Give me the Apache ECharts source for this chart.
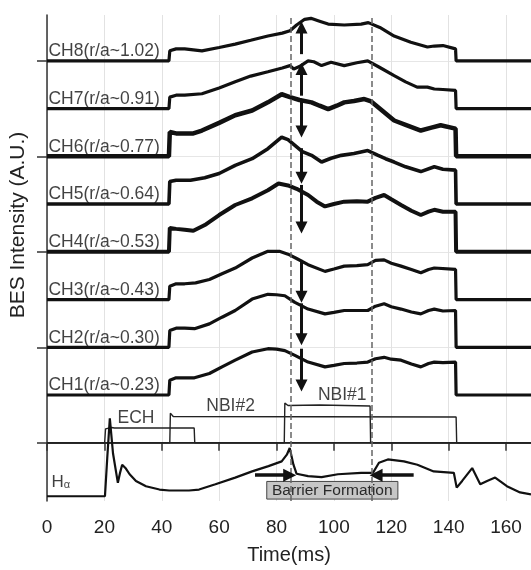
<!DOCTYPE html>
<html><head><meta charset="utf-8">
<script src="https://cdn.jsdelivr.net/npm/echarts@6/dist/echarts.min.js"></script>
<style>html,body{margin:0;padding:0;background:#fff}#c{width:531px;height:570px}</style>
</head><body><div id="c"></div>
<script>
// ---- data (time in ms, intensity in A.U.; channel spacing = 10 A.U.) ----
const xTicks = [0, 20, 40, 60, 80, 100, 120, 140, 160];
const yTicks = [0, 20, 40, 60, 80];
const channelLabels = ['CH1(r/a~0.23)','CH2(r/a~0.30)','CH3(r/a~0.43)','CH4(r/a~0.53)','CH5(r/a~0.64)','CH6(r/a~0.77)','CH7(r/a~0.91)','CH8(r/a~1.02)'];
const channelOffsets = [10, 20, 30, 40, 50, 60, 70, 80];

const ch1 = [[0,0],[42.5,0],[42.8,3.1],[45,3.6],[48,3.6],[51.4,3.6],[56.6,4.5],[61,5.9],[65.6,7.3],[71.5,9.0],[77,9.7],[80,9.6],[82.9,9.3],[86.4,8.3],[91,6.9],[96.9,5.9],[100,6.2],[103.6,6.6],[108,6.7],[111.8,6.9],[114.5,7.6],[117.5,7.9],[120,7.5],[123.4,7.3],[127,6.5],[130.3,5.9],[133,6.6],[135,6.9],[138,6.8],[142.4,6.9],[142.6,0],[168.7,0]];
const ch2 = [[0,0],[42.5,0],[42.8,3.5],[45,4.0],[48,4.0],[51.4,3.9],[56.6,4.9],[61,6.3],[65.6,7.7],[71.5,10.1],[77,11.1],[80,11.0],[82.9,10.8],[86.4,9.4],[91,8.0],[96.9,7.0],[100,7.3],[103.6,7.7],[108,7.7],[111.8,7.7],[114.5,8.6],[117.5,9.1],[120,8.5],[123.4,8.0],[127,7.4],[130.3,7.0],[133,7.7],[135,8.0],[138,7.6],[142.4,7.7],[142.6,0],[168.7,0]];
const ch3 = [[0,0],[42.5,0],[42.8,2.8],[45,3.3],[48,3.3],[51.8,3.5],[56.6,4.2],[61,5.4],[65.6,6.6],[71.5,8.7],[77,10.1],[81,10.1],[84,9.5],[87,8.6],[91,7.3],[96.9,5.9],[100,6.4],[103.6,7.0],[108,7.1],[111.8,7.3],[114.5,8.2],[117.5,8.3],[120,7.6],[123.4,7.0],[127,6.3],[130.3,5.6],[133,6.3],[135,6.6],[142.4,6.3],[142.6,0],[168.7,0]];
const ch4 = [[0,0],[42.5,0],[42.8,5.0],[45,4.8],[48,4.6],[51,4.4],[55,5.6],[60,7.7],[65.6,9.8],[71.5,11.2],[77,12.9],[80.7,14.3],[84,13.9],[87,13.2],[91,11.9],[94,10.5],[96.9,9.5],[100,10.0],[103.6,10.5],[108,10.6],[111.8,10.5],[114.5,11.3],[117.5,11.9],[120,11.0],[123.4,9.8],[127,8.6],[130.3,7.7],[133,8.4],[135,8.8],[138,8.4],[142.4,8.4],[142.6,0],[168.7,0]];
const ch5 = [[0,0],[42.5,0],[42.8,4.7],[45,5.0],[50,5.0],[55,5.5],[60,6.4],[65.6,8.1],[71.5,9.5],[77,11.6],[81.8,14.0],[84,13.5],[86.4,12.3],[89,11.0],[92.2,10.2],[95.7,8.8],[99,9.6],[102.6,10.2],[107,10.6],[111.8,11.2],[115.4,10.2],[118,9.5],[121,8.8],[125,7.8],[130.3,6.8],[135,7.8],[138,7.3],[142.4,7.1],[142.6,0],[168.7,0]];
const ch6 = [[0,0],[42.5,0],[42.8,5.1],[45,4.8],[48,4.8],[51,4.8],[54,5.4],[60,7.0],[65.6,8.6],[71.5,9.6],[77,11.3],[81.8,13.0],[84.7,12.4],[88,11.8],[92.2,11.3],[95,10.6],[98,9.9],[101,10.6],[103.6,11.3],[107,11.6],[110.6,12.0],[113,11.5],[117,9.5],[121,7.5],[125,6.6],[130.3,5.4],[134,6.0],[137.2,6.5],[142.4,5.8],[142.6,0],[168.7,0]];
const ch7 = [[0,0],[42.5,0],[42.8,2.4],[45,2.8],[48,2.8],[54,3.1],[60,4.3],[65.6,5.6],[71,6.8],[77,7.7],[82,8.5],[84.7,9.0],[86,8.3],[88,8.8],[91,10.0],[93,9.8],[95.7,9.0],[99,9.7],[103.6,9.0],[108,9.6],[111.8,10.0],[116,8.6],[121,6.9],[125,5.6],[129,4.5],[132.6,4.5],[135,4.1],[138,4.0],[142.4,3.8],[142.6,0],[168.7,0]];
const ch8 = [[0,0],[42.5,0],[42.8,2.1],[45,2.5],[48,2.5],[51,2.3],[54,2.1],[60,2.8],[65.6,3.5],[71,4.3],[77,5.2],[82,5.8],[84.7,6.3],[87,7.5],[89.8,8.7],[92,8.9],[95,8.3],[98,7.7],[103.6,7.5],[109.5,7.7],[112,8.0],[116,7.0],[121,5.2],[126.8,3.9],[132.6,2.9],[135,3.1],[138,3.2],[142.4,2.5],[142.6,0],[168.7,0]];
const channelData = [ch1, ch2, ch3, ch4, ch5, ch6, ch7, ch8];

const ech  = [[0,0],[20.1,0],[20.4,2.9],[21,3.2],[22.5,3.2],[23.5,3.1],[51.3,3.1],[51.5,0],[168.7,0]];
const nbi2 = [[0,0],[42.8,0],[43.0,6.2],[44,5.5],[142.6,5.4],[142.8,0],[168.7,0]];
const nbi1 = [[0,0],[82.7,0],[82.9,8.3],[84,7.8],[95,7.9],[112.6,7.7],[112.8,0],[168.7,0]];

const halphaOffset = -11.2;
const halpha = [[0,0],[20.2,0],[21.0,8],[21.9,16.3],[23,9],[24.7,2.8],[25.5,5],[26.2,6.6],[27.5,5.8],[28.8,4.6],[31,3.2],[34.5,2.1],[39.2,1.4],[42.6,1.2],[49.5,1.2],[53,1.4],[58.7,2.5],[65.6,3.9],[71.5,5.2],[77.2,6.3],[81.8,7.3],[83.6,8.7],[84.6,10.1],[85.9,6.6],[87,4.7],[91,4.2],[95.7,4.0],[101.4,4.6],[109.5,4.9],[113.6,4.9],[115.7,7.0],[118.8,7.7],[124.4,7.3],[129.1,6.6],[134.8,5.2],[141.8,4.9],[142.8,1.8],[144.7,3.2],[148.2,5.9],[151,2.5],[153.4,3.2],[156.2,3.9],[160.3,2.1],[164.9,0.8],[168.7,0.4]];

const barrierTimes = [85, 113.2];
const arrowTime = 88.7;
const arrowSpans = [[19.7,12.0],[29.2,21.7],[38.3,30.6],[54.0,45.1],[61.7,55.5],[72.0,65.2],[72.7,78.3],[81.4,87.0]];
const barrierArrows = [[72.5,84.6],[127.8,114.7]];
const barrierArrowLevel = -6.8;
const barrierBox = [[76.6,-8.1],[122.3,-11.8]];
const barrierText = 'Barrier Formation';

// ---- chart ----
const FONT = 'Liberation Sans, Arial, Helvetica, sans-serif';
const chart = echarts.init(document.getElementById('c'), null, {renderer: 'canvas'});
const channelWidths = [3.2, 3.2, 3.2, 4, 3.6, 4.5, 3.2, 3.2];
const series = [];

channelData.forEach((d, i) => {
  series.push({
    type: 'line', name: channelLabels[i], symbol: 'none', z: 3,
    data: d.map(p => [p[0], p[1] + channelOffsets[i]]),
    lineStyle: {color: '#111', width: channelWidths[i]},
    markLine: {
      silent: true, symbol: ['none', 'triangle'], symbolSize: 12,
      label: {show: false},
      lineStyle: {color: '#111', width: 3, type: 'solid'},
      data: [[{coord: [arrowTime, arrowSpans[i][0]]}, {coord: [arrowTime, arrowSpans[i][1]]}]]
    }
  });
});

[ech, nbi2, nbi1].forEach((d, i) => {
  const s = {type: 'line', symbol: 'none', z: 2, data: d, lineStyle: {color: '#222', width: 1.4}};
  if (i === 2) {
    s.markLine = {
      silent: true, symbol: ['none', 'none'], label: {show: false},
      lineStyle: {color: '#666', width: 1.5, type: [6, 3]},
      data: barrierTimes.map(t => ({xAxis: t}))
    };
  }
  series.push(s);
});

series.push({
  type: 'line', symbol: 'none', z: 3,
  data: halpha.map(p => [p[0], p[1] + halphaOffset]),
  lineStyle: {color: '#111', width: 2.2},
  markLine: {
    silent: true, symbol: ['none', 'triangle'], symbolSize: 13, label: {show: false},
    lineStyle: {color: '#111', width: 3.5, type: 'solid'},
    data: barrierArrows.map(a => [{coord: [a[0], barrierArrowLevel]}, {coord: [a[1], barrierArrowLevel]}])
  },
  markArea: {
    silent: true,
    itemStyle: {color: '#c6c6c6', borderColor: '#444', borderWidth: 1},
    label: {show: true, position: 'inside', formatter: barrierText, fontSize: 15.5, color: '#2a2a2a', fontFamily: FONT},
    data: [[{coord: barrierBox[0]}, {coord: barrierBox[1]}]]
  }
});

// text annotations placed in data coordinates
const labelItems = channelLabels.map((name, i) => ({
  value: [0.5, channelOffsets[i] + 2.0], name: name,
  label: {align: 'left', fontSize: 17.5}
}));
labelItems.push({value: [31.0, 5.07], name: 'ECH', label: {align: 'center', fontSize: 17.5}});
labelItems.push({value: [64.0, 7.66], name: 'NBI#2', label: {align: 'center', fontSize: 17.5}});
labelItems.push({value: [102.9, 9.93], name: 'NBI#1', label: {align: 'center', fontSize: 17.5}});
labelItems.push({value: [4.8, -8.3], name: 'Hα', label: {align: 'center', formatter: '{h|H}{s|α}'}});
series.push({
  type: 'scatter', symbol: 'circle', symbolSize: 1, z: 5, silent: true,
  itemStyle: {color: 'rgba(0,0,0,0)'},
  data: labelItems,
  label: {
    show: true, position: 'inside', verticalAlign: 'middle', color: '#111', fontFamily: FONT,
    formatter: p => p.name,
    rich: {h: {fontSize: 17, fontFamily: FONT, color: '#111', verticalAlign: 'bottom'},
           s: {fontSize: 11, fontFamily: FONT, color: '#111', verticalAlign: 'bottom'}}
  }
});

chart.setOption({
  animation: false,
  backgroundColor: '#fff',
  grid: {left: 43.5, right: 0, top: 15, bottom: 63, containLabel: false},
  xAxis: {
    type: 'value', min: 0, max: 168.7, interval: 20,
    name: 'Time(ms)', nameLocation: 'middle', nameGap: 44,
    nameTextStyle: {fontSize: 20, color: '#222', fontFamily: FONT},
    axisLine: {lineStyle: {color: '#333', width: 1.5}},
    axisTick: {show: true, length: 8, lineStyle: {color: '#333', width: 1.5}, customValues: xTicks},
    axisLabel: {fontSize: 19, color: '#222', margin: 17, fontFamily: FONT, customValues: xTicks},
    splitLine: {show: true, lineStyle: {color: '#e2e2e2', width: 1}}
  },
  yAxis: {
    type: 'value', min: -12.2, max: 89.6,
    name: 'BES Intensity (A.U.)', nameLocation: 'middle', nameGap: 18,
    nameTextStyle: {fontSize: 21, color: '#222', fontFamily: FONT, padding: [0, 0, 0, 66]},
    axisLine: {show: true, lineStyle: {color: '#333', width: 1.5}},
    axisTick: {show: true, length: 10, lineStyle: {color: '#333', width: 1.5}, customValues: yTicks},
    axisLabel: {show: false},
    splitLine: {show: true, lineStyle: {color: '#e6e6e6', width: 1}}
  },
  series: series
});
</script></body></html>
